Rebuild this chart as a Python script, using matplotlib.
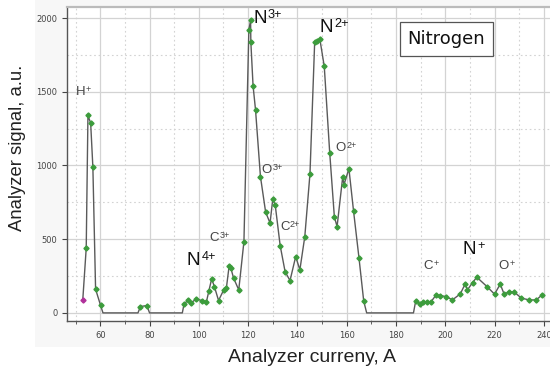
import matplotlib
matplotlib.use("Agg")
import matplotlib.pyplot as plt
from matplotlib.ticker import MultipleLocator
from matplotlib.patches import Rectangle
import numpy as np

plt.rcParams["font.family"] = ["Liberation Sans", "DejaVu Sans"]

current = [52.9, 54.3, 55.0, 56.1, 57.0, 58.1, 60.1, 61.1, 75.3, 76.3, 78.9, 80.0,
           93.3, 94.0, 95.8, 97.0, 99.0, 101.1, 103.1, 104.1, 105.2, 106.3, 108.0,
           110.1, 111.2, 112.3, 113.0, 114.1, 116.2, 118.3, 120.3, 121.0, 121.1,
           122.0, 123.0, 125.0, 127.1, 128.9, 130.0, 131.0, 133.0, 135.0, 137.0,
           139.3, 141.0, 143.0, 145.1, 147.0, 147.8, 149.1, 150.9, 153.1, 155.0,
           156.1, 158.4, 158.9, 160.9, 162.8, 165.0, 166.9, 168.1, 187.1, 188.0,
           189.8, 191.1, 192.5, 194.1, 196.3, 197.9, 200.4, 202.9, 206.1, 208.1,
           209.0, 211.1, 212.8, 216.9, 220.0, 222.3, 223.9, 226.0, 228.0, 230.9,
           234.1, 236.9, 239.3]
signal = [88, 439, 1339, 1288, 988, 161, 52, 0, 0, 43, 50, 0,
          0, 61, 88, 70, 95, 84, 77, 151, 231, 179, 84,
          156, 172, 319, 303, 236, 156, 484, 1921, 1984, 1838,
          1541, 1378, 925, 684, 609, 772, 731, 457, 280, 219,
          382, 292, 518, 944, 1835, 1842, 1858, 1672, 1088, 650,
          586, 925, 869, 978, 688, 371, 81, 0, 0, 81,
          61, 73, 77, 73, 122, 117, 111, 88, 129, 197,
          156, 206, 242, 179, 127, 195, 127, 145, 141, 100,
          88, 88, 122]

ion_base = ["H", "N", "N", "O", "O", "C", "C", "N", "C", "N", "O"]
ion_charge = ["+", "3+", "2+", "3+", "2+", "3+", "2+", "4+", "+", "+", "+"]
ion_x = [50.0, 122.0, 148.8, 125.4, 155.4, 104.4, 132.9, 95.0, 191.0, 206.9, 221.6]
ion_y = [1480, 1969, 1908, 950, 1095, 489, 563, 326, 299, 400, 299]
ion_major = [False, True, True, False, False, False, False, True, False, True, False]

fig = plt.figure(figsize=(5.5, 3.7), dpi=100, facecolor="white")
fig.patches.append(Rectangle((35/550, 1 - 347/370), 1 - 35/550, 347/370,
                             transform=fig.transFigure, fc="#f7f7f7", ec="none", zorder=-10))
ax = fig.add_axes([67/550, 1 - 321/370, (550 - 67)/550, (321 - 7)/370])
ax.set_facecolor("white")

ax.set_xlim(46.5, 242.5)
ax.set_ylim(-55, 2075)

x = np.array(current)
y = np.array(signal)
ax.plot(x, y, color="#5a5a5a", lw=1.0, zorder=3)
mask = y > 0
mask[0] = False
ax.plot(x[mask], y[mask], ls="none", marker="D", ms=2.6, color="#3c9c3c",
        mec="#3c9c3c", zorder=4)
ax.plot(x[:1], y[:1], ls="none", marker="D", ms=2.6, color="#b0309a", zorder=4)

for b, c, lx, ly, maj in zip(ion_base, ion_charge, ion_x, ion_y, ion_major):
    fs, col, dx = (13.5, "#111111", 1.0) if maj else (9.5, "#444444", 0.4)
    t = ax.text(lx, ly, b, fontsize=fs, color=col, ha="left", va="baseline", zorder=5)
    ax.annotate(c, xy=(1.0, 1.0), xycoords=t, xytext=(dx, 0.8), textcoords="offset points",
                fontsize=fs * 0.68, color=col, ha="left", va="top", zorder=5)

ax.text(0.785, 0.898, "Nitrogen", transform=ax.transAxes, fontsize=13,
        family="DejaVu Sans", ha="center", va="center", color="#111111",
        bbox=dict(boxstyle="square,pad=0.42", fc="white", ec="#555555", lw=0.9), zorder=6)

ax.set_xticks(np.arange(60, 241, 20))
ax.xaxis.set_minor_locator(MultipleLocator(10))
ax.yaxis.set_major_locator(MultipleLocator(500))
ax.yaxis.set_minor_locator(MultipleLocator(250))
ax.grid(which="major", color="#d3d3d3", lw=0.9)
ax.grid(which="minor", color="#d3d3d3", lw=0.8, ls=(0, (1.5, 2.5)))
ax.set_axisbelow(True)

ax.tick_params(axis="both", which="major", labelsize=6, labelcolor="#444444",
               color="#444444", length=3.5, direction="out")
ax.tick_params(axis="x", which="minor", length=2.5, color="#444444", direction="out")
ax.tick_params(axis="y", which="minor", length=0)
for lab in ax.get_xticklabels() + ax.get_yticklabels():
    lab.set_family("DejaVu Sans")

for s in ["left", "bottom"]:
    ax.spines[s].set_color("#555555")
    ax.spines[s].set_linewidth(1.0)
ax.spines["top"].set_color("#bbbbbb")
ax.spines["top"].set_linewidth(1.6)
ax.spines["right"].set_visible(False)

fig.text(312/550, 1 - 357/370, "Analyzer curreny, A", fontsize=14, color="#222222",
         ha="center", va="center")
fig.text(18/550, 1 - 148/370, "Analyzer signal, a.u.", fontsize=13.3, color="#222222",
         ha="center", va="center", rotation=90)

fig.savefig("out.png", dpi=100, facecolor="white")
